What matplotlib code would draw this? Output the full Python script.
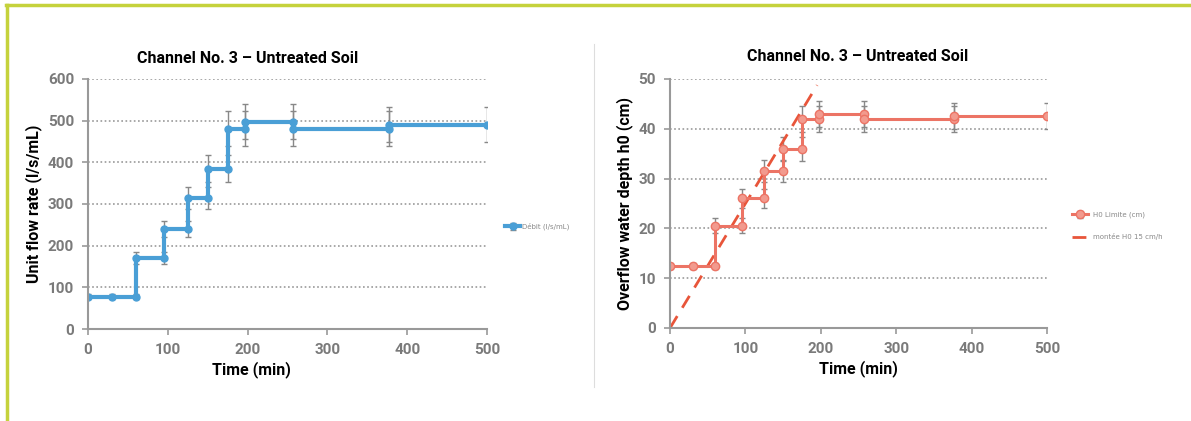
import matplotlib
matplotlib.use("Agg")
import matplotlib.pyplot as plt
from matplotlib.lines import Line2D

# temps (min) et valeurs, en escalier
temps = [0, 30, 60, 60, 95, 95, 125, 125, 150, 150, 175, 175, 197, 197, 257, 257, 377, 377, 500]
debit = [78, 78, 78, 170, 170, 240, 240, 315, 315, 385, 385, 480, 480, 497, 497, 480, 480, 490, 490]
err_debit = [6, 6, 6, 14, 14, 20, 20, 26, 26, 32, 32, 42, 42, 42, 42, 42, 42, 42, 42]
hauteur = [12.5, 12.5, 12.5, 20.5, 20.5, 26, 26, 31.5, 31.5, 36, 36, 42, 42, 43, 43, 42, 42, 42.5, 42.5]
err_hauteur = [0.6, 0.6, 0.6, 1.5, 1.5, 2, 2, 2.2, 2.2, 2.4, 2.4, 2.6, 2.6, 2.6, 2.6, 2.6, 2.6, 2.6, 2.6]
temps_montee = [0, 195]
vitesse_montee = 15 / 60  # cm/min

titre = "Channel No. 3 \u2013 Untreated Soil"
police = ["Roboto", "DejaVu Sans"]
bleu = "#4a9fd6"
rouge = "#ec7465"
gris = "#7a7a7a"

fig = plt.figure(figsize=(11.91, 4.21), dpi=100)

# cadre vert
fig.add_artist(Line2D([0.005, 1.0], [0.988, 0.988], color="#c5d23c", lw=2.5))
fig.add_artist(Line2D([0.006, 0.006], [0.0, 0.988], color="#c5d23c", lw=2.5))
fig.add_artist(Line2D([0.499, 0.499], [0.08, 0.895], color="#dddddd", lw=0.8))


def style_axe(ax, ymax, pas):
    ax.set_xlim(0, 500)
    ax.set_ylim(0, ymax)
    ax.set_xticks(range(0, 501, 100))
    ax.set_yticks(range(0, ymax + 1, pas))
    ax.grid(axis="y", linestyle=(0, (1, 1.5)), color="#999999", lw=1.2)
    ax.set_axisbelow(True)
    for s in ["top", "right"]:
        ax.spines[s].set_visible(False)
    for s in ["left", "bottom"]:
        ax.spines[s].set_color("#999999")
        ax.spines[s].set_linewidth(1.5)
    ax.tick_params(colors="#999999", labelcolor=gris, length=4, width=1.2, labelsize=11, pad=6)
    for lab in ax.get_xticklabels() + ax.get_yticklabels():
        lab.set_family(police)
        lab.set_fontweight("bold")
    ax.set_xlabel("Time (min)", fontsize=11.5, fontweight="bold", family=police, labelpad=3)


# graphe gauche : débit
ax1 = fig.add_axes([0.0739, 0.2185, 0.335, 0.594])
ax1.errorbar(temps, debit, yerr=err_debit, color=bleu, lw=3, marker="o", ms=5,
             ecolor="#888888", elinewidth=1, capsize=2, label="D\u00e9bit (l/s/mL)")
style_axe(ax1, 600, 100)
ax1.xaxis.set_label_coords(0.41, -0.13)
ax1.set_ylabel("Unit flow rate (l/s/mL)", fontsize=11.5, fontweight="bold", family=police, labelpad=4)
ax1.legend(loc="center left", bbox_to_anchor=(1.03, 0.41), frameon=False, fontsize=5,
           handlelength=2.2, handletextpad=0.2, labelcolor="#888888")
fig.text(0.208, 0.862, titre, ha="center", va="center", fontsize=11.5, fontweight="bold", family=police)

# graphe droite : hauteur
ax2 = fig.add_axes([0.5626, 0.221, 0.3166, 0.5915])
mesure = ax2.errorbar(temps, hauteur, yerr=err_hauteur, color=rouge, lw=2.2, marker="o", ms=6,
                      mfc="#f29a8e", ecolor="#888888", elinewidth=1, capsize=2, label="H0 Limite (cm)")
montee, = ax2.plot(temps_montee, [t * vitesse_montee for t in temps_montee], color="#e8553a",
                   lw=2, ls=(0, (5, 3.5)), label="mont\u00e9e H0 15 cm/h")
style_axe(ax2, 50, 10)
ax2.xaxis.set_label_coords(0.5, -0.13)
ax2.set_ylabel("Overflow water depth h0 (cm)", fontsize=11.5, fontweight="bold", family=police, labelpad=4)
ax2.legend(handles=[mesure, montee], loc="center left", bbox_to_anchor=(1.05, 0.41), frameon=False,
           fontsize=5, handlelength=2.2, handletextpad=0.8, labelspacing=2.2, labelcolor="#888888")
fig.text(0.72, 0.865, titre, ha="center", va="center", fontsize=11.5, fontweight="bold", family=police)

fig.savefig("out.png", dpi=100)
